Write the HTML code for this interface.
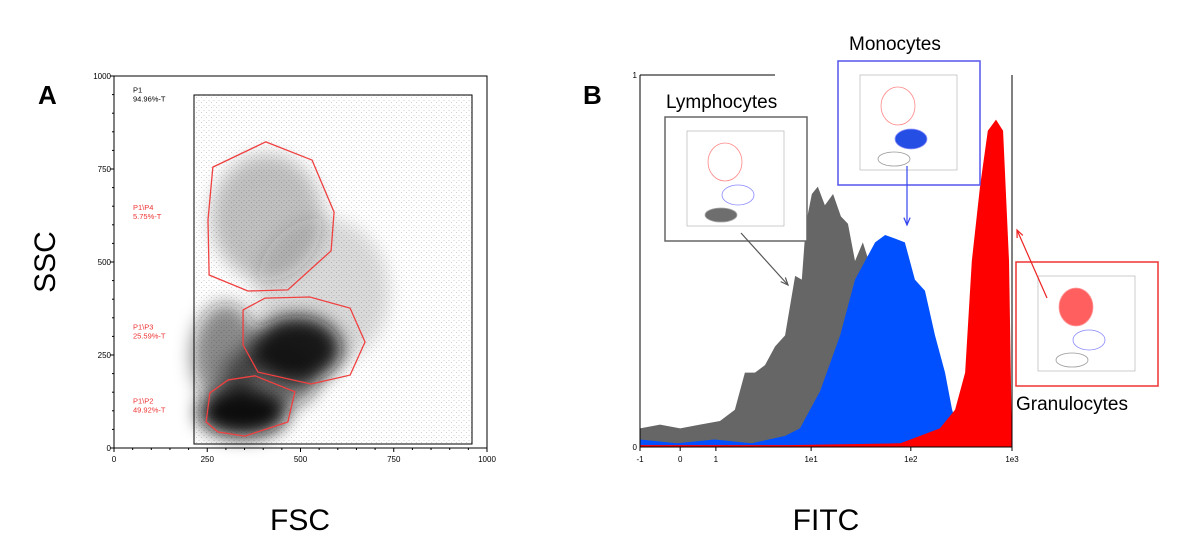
<!DOCTYPE html>
<html><head><meta charset="utf-8"><style>
body{margin:0;background:#fff;}
svg{display:block;font-family:"Liberation Sans",sans-serif;}
</style></head><body>
<svg id="root" width="1200" height="543" viewBox="0 0 1200 543">
<defs>
<filter id="blur6" x="-50%" y="-50%" width="200%" height="200%"><feGaussianBlur stdDeviation="9"/></filter>
<pattern id="dots" width="5" height="5" patternUnits="userSpaceOnUse"><rect x="1" y="2" width="1" height="1" fill="#000"/><rect x="3.5" y="0" width="1" height="1" fill="#000"/></pattern>
</defs>
<g id="panelA"></g>
<g id="panelB"></g>
<text x="38" y="104" font-size="26" font-weight="bold">A</text>
<text x="583" y="104" font-size="26" font-weight="bold">B</text>
<text transform="translate(55,262) rotate(-90)" text-anchor="middle" font-size="30">SSC</text>
<text x="300" y="530" text-anchor="middle" font-size="30">FSC</text>
<text x="826" y="530" text-anchor="middle" font-size="30">FITC</text>
</svg>
<script>
// ---------- Panel A data ----------
const aTicks=[0,250,500,750,1000];
const gateP4=[[265,755],[407,823],[531,774],[590,634],[582,530],[466,425],[359,422],[255,465],[252,613]];
const gateP3=[[346,371],[405,403],[525,406],[633,376],[673,285],[633,196],[528,172],[386,204],[346,277]];
const gateP2=[[257,148],[306,183],[378,194],[485,151],[466,70],[351,32],[279,43],[247,70]];
const clusterX=[345,490,410,300,420,560];
const clusterY=[95,265,620,250,190,420];
const clusterRX=[120,120,150,90,130,180];
const clusterRY=[65,90,170,140,90,200];
const clusterOp=[1,0.95,0.25,0.5,0.55,0.15];
const gateLabels=[["P1","94.96%-T",955,"#000"],["P1\\P4","5.75%-T",640,"#e33"],["P1\\P3","25.59%-T",318,"#e33"],["P1\\P2","49.92%-T",120,"#e33"]];
// ---------- Panel B data ----------
const bTickLabels=["-1","0","1","1e1","1e2","1e3"];
const bTickPos=[0,108,204,460,728,1000];
const grayX=[0,54,108,161,215,255,282,309,336,363,390,417,435,446,462,478,497,519,540,559,578,599,615,632,640];
const grayY=[0.05,0.06,0.05,0.06,0.07,0.1,0.2,0.2,0.22,0.27,0.3,0.46,0.45,0.6,0.68,0.7,0.65,0.68,0.62,0.6,0.5,0.55,0.5,0.3,0];
const blueX=[0,100,200,300,390,430,484,538,578,605,632,659,686,712,739,766,793,820,839,855,880];
const blueY=[0.02,0.01,0.02,0.01,0.03,0.05,0.15,0.3,0.45,0.5,0.55,0.57,0.56,0.55,0.45,0.42,0.3,0.2,0.1,0.05,0];
const redX=[0,400,700,753,806,847,874,892,914,935,957,976,992,1000];
const redY=[0.005,0.005,0.01,0.03,0.05,0.1,0.2,0.5,0.7,0.85,0.88,0.85,0.5,0];

const NS="http://www.w3.org/2000/svg";
function mk(tag,attrs,parent){const e=document.createElementNS(NS,tag);for(const k in attrs)e.setAttribute(k,attrs[k]);parent.appendChild(e);return e;}
const A=document.getElementById('panelA'), B=document.getElementById('panelB');
const axL=114,axR=487,axT=76,axB=448;
const ax=v=>axL+(v/1000)*(axR-axL), ay=v=>axB-(v/1000)*(axB-axT);
let e=mk('rect',{x:194,y:95,width:278,height:349,fill:'url(#dots)',opacity:0.18},A);


const dens=mk('g',{filter:'url(#blur6)'},A);


for(let i=0;i<clusterX.length;i++){
  e=mk('ellipse',{cx:ax(clusterX[i]),cy:ay(clusterY[i]),rx:clusterRX[i]*0.373,ry:clusterRY[i]*0.372,fill:'#111',opacity:clusterOp[i]},dens);
  
  
}
e=mk('rect',{x:194,y:95,width:278,height:349,fill:'none',stroke:'#000','stroke-width':1},A);


[[gateP4,'gate-p4'],[gateP3,'gate-p3'],[gateP2,'gate-p2']].forEach(g=>{
  e=mk('polygon',{points:g[0].map(p=>ax(p[0])+','+ay(p[1])).join(' '),fill:'none',stroke:'#f04040','stroke-width':1.3},A);
  
  
});
e=mk('path',{d:`M${axL},${axT}V${axB}H${axR}V${axT}H${axL}`,fill:'none',stroke:'#000','stroke-width':1},A);


aTicks.forEach(t=>{
  e=mk('text',{x:ax(t),y:axB+14,'font-size':8,'text-anchor':'middle'},A);e.textContent=t;
  
  
  e=mk('text',{x:axL-3,y:ay(t)+3,'font-size':8,'text-anchor':'end'},A);e.textContent=t;
  
  
});
for(let t=0;t<=1000;t+=50){mk('line',{x1:ax(t),y1:axB,x2:ax(t),y2:axB+(t%250?2:4),stroke:'#000'},A);mk('line',{x1:axL,y1:ay(t),x2:axL-(t%250?2:4),y2:ay(t),stroke:'#000'},A);}
gateLabels.forEach(g=>{
  e=mk('text',{x:133,y:ay(g[2]),'font-size':7.5,fill:g[3]},A);
  
  
  mk('tspan',{x:133},e).textContent=g[0];
  mk('tspan',{x:133,dy:9},e).textContent=g[1];
});
const bL=640,bR=1012,bT=75,bB=447;
const bx=v=>bL+(v/1000)*(bR-bL), by=v=>bB-v*(bB-bT);
function area(xs,ys,color,name){
  let d=`M${bx(xs[0])},${bB}`;
  for(let i=0;i<xs.length;i++){d+=`L${bx(xs[i])},${by(ys[i])}`;}
  d+=`L${bx(xs[xs.length-1])},${bB}Z`;
  const p=mk('path',{d,fill:color},B);
  
  
}
area(grayX,grayY,'#666','lymphocyte-histogram');
area(blueX,blueY,'#0050ff','monocyte-histogram');
area(redX,redY,'#ff0000','granulocyte-histogram');
e=mk('path',{d:`M${bL},${bT}V${bB}H${bR}V${bT}M${bL},${bT}H775`,fill:'none',stroke:'#000','stroke-width':1},B);


bTickLabels.forEach((l,i)=>{
  e=mk('text',{x:bx(bTickPos[i]),y:bB+15,'font-size':8,'text-anchor':'middle'},B);e.textContent=l;
  
  
  mk('line',{x1:bx(bTickPos[i]),y1:bB,x2:bx(bTickPos[i]),y2:bB+4,stroke:'#000'},B);
});
[["1",0],["0",1]].forEach(t=>{e=mk('text',{x:bL-3,y:(t[1]?bB:bT)+3,'font-size':8,'text-anchor':'end'},B);e.textContent=t[0];
  
  });
function inset(x,y,border,fillIdx,name){
  const g=mk('g',{},B);
  
  
  mk('rect',{x,y,width:142,height:124,fill:'#fff',stroke:border,'stroke-width':1.5},g);
  mk('rect',{x:x+22,y:y+14,width:97,height:95,fill:'none',stroke:'#aaa','stroke-width':0.6},g);
  const ells=[[x+60,y+45,17,19,'#f88'],[x+73,y+78,16,10,'#88f'],[x+56,y+98,16,7,'#999']];
  const fills=['#f44','#0030e0','#555'];
  ells.forEach((c,i)=>{
    mk('ellipse',{cx:c[0],cy:c[1],rx:c[2],ry:c[3],fill:i===fillIdx?fills[fillIdx]:'none',stroke:c[4],'stroke-width':0.8,opacity:i===fillIdx?0.85:1},g);
  });
}
inset(665,117,'#666',2,'lymphocyte-inset');
inset(838,61,'#5555ee',1,'monocyte-inset');
inset(1016,262,'#ee3333',0,'granulocyte-inset');
function arrow(x1,y1,x2,y2,c,name){
  const g=mk('g',{stroke:c,'stroke-width':1.2,fill:'none'},B);
  
  
  mk('line',{x1,y1,x2,y2},g);
  const a=Math.atan2(y2-y1,x2-x1);
  mk('path',{d:`M${x2-8*Math.cos(a-0.4)},${y2-8*Math.sin(a-0.4)}L${x2},${y2}L${x2-8*Math.cos(a+0.4)},${y2-8*Math.sin(a+0.4)}`},g);
}
arrow(741,233,788,285,'#555','lymphocyte-arrow');
arrow(907,166,907,225,'#3344ee','monocyte-arrow');
arrow(1047,298,1017,230,'#ee2222','granulocyte-arrow');
[["Lymphocytes",666,108],["Monocytes",849,50],["Granulocytes",1016,410]].forEach(t=>{
  e=mk('text',{x:t[1],y:t[2],'font-size':19},B);e.textContent=t[0];
  
  
});
</script>
</body></html>
